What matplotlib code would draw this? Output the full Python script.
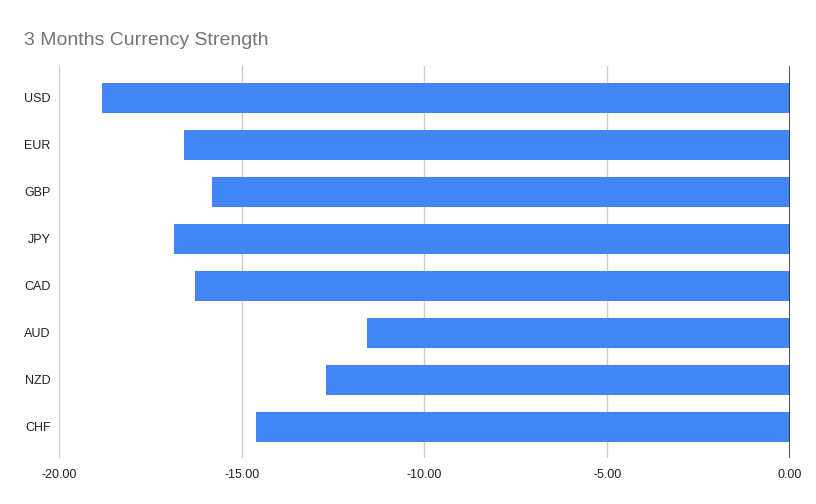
import matplotlib.pyplot as plt
from matplotlib.ticker import FormatStrFormatter

plt.rcParams['font.family'] = ['Liberation Sans', 'DejaVu Sans']

# 3 month currency strength values
currencies = ["USD", "EUR", "GBP", "JPY", "CAD", "AUD", "NZD", "CHF"]
strength = [-18.82, -16.58, -15.81, -16.85, -16.28, -11.57, -12.69, -14.61]

fig = plt.figure(figsize=(8.16, 5.04), dpi=100)
ax = fig.add_axes([0.0723, 0.0913, 0.8957, 0.7777])

pos = list(range(len(currencies)))
ax.barh(pos, strength, height=0.64, color="#4285f4", zorder=3)

ax.set_xlim(-20, 0)
ax.set_ylim(7.66, -0.68)
ax.set_xticks([-20, -15, -10, -5, 0])
ax.xaxis.set_major_formatter(FormatStrFormatter("%.2f"))
ax.set_yticks(pos)
ax.set_yticklabels(currencies)

ax.grid(axis="x", color="#cccccc", linewidth=1, zorder=0)
ax.axvline(0, color="#333333", linewidth=1.2, zorder=4)
for s in ax.spines.values():
    s.set_visible(False)
ax.tick_params(length=0, labelsize=9, colors="#222222")
ax.tick_params(axis="x", pad=8)
ax.tick_params(axis="y", pad=6)

fig.text(0.0294, 0.919, "3 Months Currency Strength", fontsize=14,
         color="#757575", va="center")

fig.savefig("out.png", dpi=100)
